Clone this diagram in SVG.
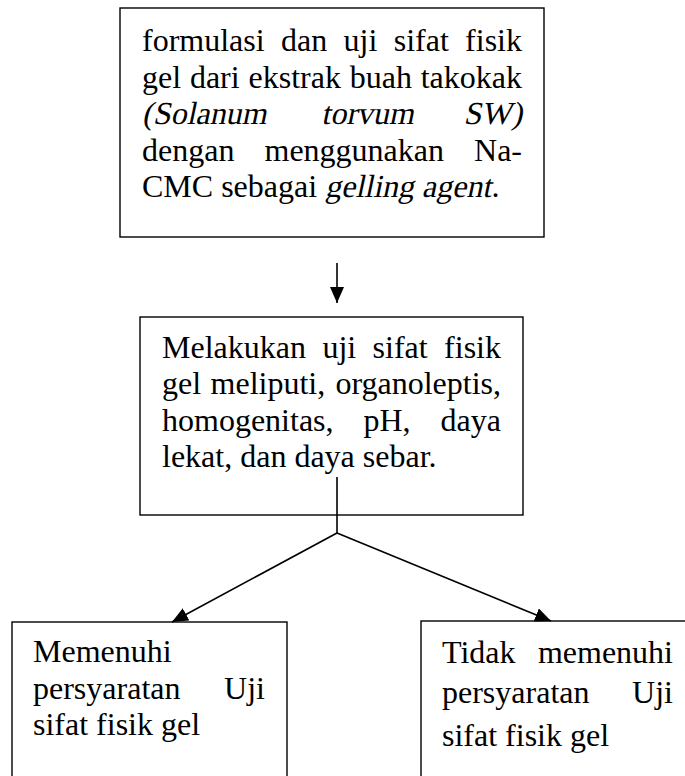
<svg xmlns="http://www.w3.org/2000/svg" width="685" height="776" viewBox="0 0 685 776">
<style>
.box{fill:#fff;stroke:#000;stroke-width:1.4}
.t{font-family:"Liberation Serif","Times New Roman",serif;font-size:32px;fill:#000}
.e{text-anchor:end}
.c{stroke:#000;stroke-width:1.6;fill:none}
</style>
<defs>
<marker id="ah" markerUnits="userSpaceOnUse" markerWidth="18" markerHeight="14" refX="16" refY="7" orient="auto">
<path d="M0,0 L16,7 L0,14 Z" fill="#000"/>
</marker>
</defs>
<rect width="685" height="776" fill="#fff"/>
<g id="node-top">
<rect class="box" x="120" y="8" width="424" height="229"/>
<text class="t" y="51"><tspan x="142">formulasi</tspan><tspan x="281">dan</tspan><tspan x="343.5">uji</tspan><tspan x="393.7">sifat</tspan></text>
<text class="t e" x="522" y="51">fisik</text>
<text class="t" y="87.5"><tspan x="142">gel</tspan><tspan x="189.9">dari</tspan><tspan x="248.5">ekstrak</tspan><tspan x="349.7">buah</tspan></text>
<text class="t e" x="522" y="87.5">takokak</text>
<g transform="translate(26.4,0) skewX(-12)">
<text class="t" y="124"><tspan x="142">(Solanum</tspan><tspan x="321.3">torvum</tspan></text>
<text class="t e" x="522" y="124">SW)</text>
</g>
<text class="t" y="160.5"><tspan x="142">dengan</tspan><tspan x="264.5">menggunakan</tspan></text>
<text class="t e" x="522" y="160.5">Na-</text>
<text class="t" x="142" y="197">CMC sebagai</text>
<g transform="translate(41.9,0) skewX(-12)">
<text class="t" x="325" y="197">gelling agent</text>
</g>
<text class="t" x="491.5" y="197">.</text>
</g>
<g id="node-middle">
<rect class="box" x="140" y="317" width="383" height="198"/>
<text class="t" y="358"><tspan x="162">Melakukan</tspan><tspan x="322.4">uji</tspan><tspan x="372.6">sifat</tspan></text>
<text class="t e" x="501" y="358">fisik</text>
<text class="t" y="394"><tspan x="162">gel</tspan><tspan x="210.6">meliputi,</tspan></text>
<text class="t e" x="501" y="394">organoleptis,</text>
<text class="t" y="430.5"><tspan x="162">homogenitas,</tspan><tspan x="363.5">pH,</tspan></text>
<text class="t e" x="501" y="430.5">daya</text>
<text class="t" x="162" y="467">lekat, dan daya sebar.</text>
</g>
<g id="node-left">
<rect class="box" x="12" y="622" width="275" height="170"/>
<text class="t" x="33" y="662">Memenuhi</text>
<text class="t" x="33" y="698.5">persyaratan</text>
<text class="t e" x="265" y="698.5">Uji</text>
<text class="t" x="33" y="735">sifat fisik gel</text>
</g>
<g id="node-right">
<rect class="box" x="421" y="621" width="280" height="170"/>
<text class="t" x="442" y="663">Tidak</text>
<text class="t e" x="673" y="663">memenuhi</text>
<text class="t" x="442" y="703">persyaratan</text>
<text class="t e" x="673" y="703">Uji</text>
<text class="t" x="442" y="746">sifat fisik gel</text>
</g>
<g id="connectors">
<line class="c" x1="337" y1="263" x2="337" y2="303" marker-end="url(#ah)"/>
<polyline class="c" points="337,477 337,533"/>
<line class="c" x1="337" y1="533" x2="172" y2="622" marker-end="url(#ah)"/>
<line class="c" x1="337" y1="533" x2="551" y2="621" marker-end="url(#ah)"/>
</g>
</svg>
